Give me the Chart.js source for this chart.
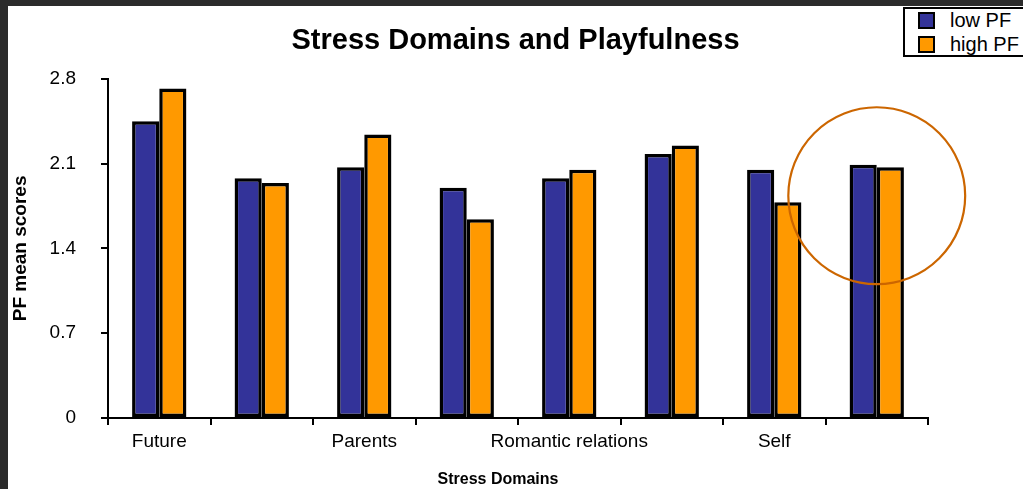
<!DOCTYPE html>
<html>
<head>
<meta charset="utf-8">
<script src="https://cdn.jsdelivr.net/npm/chart.js@4.4.1/dist/chart.umd.min.js"></script>
<style>
  body { margin: 0; background: #2b2b2b; width: 1023px; height: 489px; overflow: hidden; }
  .frame { position: absolute; left: 8px; top: 6px; width: 1015px; height: 483px; background: #fff; }
  .legend {
    position: absolute; left: 895px; top: 1px; width: 130px; height: 46px;
    border: 2px solid #000; border-right: none; background: #fff;
    font-family: "Liberation Sans", Arial, sans-serif; font-size: 20px; color: #000;
  }
  .legend div { position: absolute; left: 45px; line-height: 22px; }
  .legend span { position: absolute; left: -32px; top: 3px; width: 13px; height: 13px; border: 2px solid #000; }
</style>
</head>
<body>
<div class="frame">
  <canvas id="myChart" width="1015" height="483"></canvas>
  <div class="legend">
    <div style="top:0px"><span style="background:#333399"></span>low PF</div>
    <div style="top:24px"><span style="background:#ff9900"></span>high PF</div>
  </div>
</div>
<script>
const categories = ["Future", "", "Parents", "", "Romantic relations", "", "Self", ""];
const lowPF = [2.45, 1.98, 2.07, 1.90, 1.98, 2.18, 2.05, 2.09];
const highPF = [2.72, 1.94, 2.34, 1.64, 2.05, 2.25, 1.78, 2.07];
const yTicks = [0, 0.7, 1.4, 2.1, 2.8];

const font = "'Liberation Sans', Arial, sans-serif";

// orange ring round the last group, plus the x axis title (sits a bit left of centre)
const extrasPlugin = {
  id: "extras",
  afterDatasetsDraw(chart) {
    const { ctx, scales, chartArea } = chart;
    const cx = scales.x.getPixelForValue(categories.length - 1);
    const cy = scales.y.getPixelForValue(1.835);
    const r = scales.y.getPixelForValue(0) - scales.y.getPixelForValue(0.73);
    ctx.save();
    ctx.beginPath();
    ctx.arc(cx, cy, r, 0, Math.PI * 2);
    ctx.strokeStyle = "#cc6600";
    ctx.lineWidth = 2.2;
    ctx.stroke();

    ctx.fillStyle = "#000";
    ctx.font = "bold 16px " + font;
    ctx.textAlign = "center";
    ctx.textBaseline = "middle";
    ctx.fillText("Stress Domains", (chartArea.left + chartArea.right) / 2 - 20, chart.height - 9);
    ctx.restore();
  },
};

const ctx = document.getElementById("myChart").getContext("2d");
new Chart(ctx, {
  type: "bar",
  data: {
    labels: categories,
    datasets: [
      {
        label: "low PF",
        data: lowPF,
        backgroundColor: "#333399",
        borderColor: "#000",
        borderWidth: 3.5,
        borderSkipped: false,
        categoryPercentage: 0.53,
        barPercentage: 1,
      },
      {
        label: "high PF",
        data: highPF,
        backgroundColor: "#ff9900",
        borderColor: "#000",
        borderWidth: 3.5,
        borderSkipped: false,
        categoryPercentage: 0.53,
        barPercentage: 1,
      },
    ],
  },
  options: {
    responsive: false,
    animation: false,
    layout: { padding: 0 },
    plugins: {
      legend: { display: false },
      tooltip: { enabled: false },
      title: {
        display: true,
        text: "Stress Domains and Playfulness",
        color: "#000",
        font: { family: font, size: 29, weight: "bold" },
        padding: { top: 18, bottom: 20 },
      },
    },
    scales: {
      x: {
        afterFit(scale) { scale.height = 71; },
        border: { color: "#000", width: 2 },
        grid: { drawOnChartArea: false, color: "#000", lineWidth: 2, tickLength: 7, offset: true },
        ticks: { color: "#000", font: { family: font, size: 19 }, padding: 5, autoSkip: false, maxRotation: 0 },
      },
      y: {
        min: 0,
        max: 2.8,
        afterFit(scale) { scale.width = 100; },
        afterBuildTicks(scale) { scale.ticks = yTicks.map(v => ({ value: v })); },
        border: { color: "#000", width: 2 },
        grid: { drawOnChartArea: false, color: "#000", lineWidth: 2, tickLength: 7 },
        ticks: { color: "#000", font: { family: font, size: 19 }, padding: 25, callback: v => String(v) },
        title: {
          display: true,
          text: "PF mean scores",
          color: "#000",
          font: { family: font, size: 19, weight: "bold" },
          padding: { top: 1, bottom: 0 },
        },
      },
      // empty strip on the right so the plot stops where the original does
      pad: {
        position: "right",
        afterFit(scale) { scale.width = 95; },
        grid: { display: false },
        border: { display: false },
        ticks: { display: false },
      },
    },
  },
  plugins: [extrasPlugin],
});
</script>
</body>
</html>
